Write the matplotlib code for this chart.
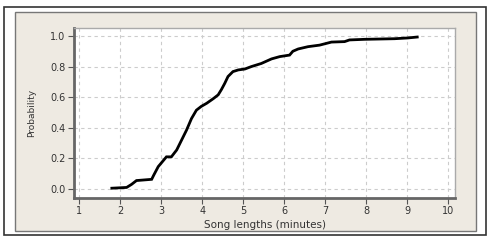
import matplotlib.pyplot as plt
from matplotlib.patches import Rectangle

# song length (minutes) vs cumulative probability
lengths = [1.80, 2.16, 2.28, 2.40, 2.77, 2.82, 2.93, 3.03, 3.13, 3.25, 3.38,
           3.50, 3.62, 3.74, 3.86, 3.98, 4.11, 4.27, 4.39, 4.47, 4.55, 4.63,
           4.75, 4.88, 5.04, 5.20, 5.44, 5.69, 5.89, 6.13, 6.21, 6.34, 6.58,
           6.86, 7.15, 7.47, 7.59, 7.96, 8.69, 9.01, 9.24]
prob = [0.005, 0.01, 0.03, 0.055, 0.063, 0.09, 0.146, 0.178, 0.21, 0.21, 0.255,
        0.32, 0.385, 0.46, 0.515, 0.54, 0.56, 0.59, 0.615, 0.65, 0.69, 0.735,
        0.767, 0.778, 0.784, 0.80, 0.82, 0.85, 0.865, 0.875, 0.90, 0.915, 0.93,
        0.94, 0.96, 0.963, 0.974, 0.978, 0.982, 0.987, 0.993]
xticks = list(range(1, 11))
yticks = [0.0, 0.2, 0.4, 0.6, 0.8, 1.0]

W, H = 490, 241


def px(x0, y0, x1, y1):
    # pixel box -> figure fraction (left, bottom, width, height)
    return x0 / W, 1 - y1 / H, (x1 - x0) / W, (y1 - y0) / H


fig = plt.figure(figsize=(4.9, 2.41), dpi=100)
fig.patch.set_facecolor('white')

# outer frame and beige panel, kept behind the axes
l, b, w, h = px(4, 7, 486, 235)
fig.add_artist(Rectangle((l, b), w, h, transform=fig.transFigure, zorder=-2,
                         facecolor='white', edgecolor='#333333', lw=1.2))
l, b, w, h = px(15, 12, 476, 231)
fig.add_artist(Rectangle((l, b), w, h, transform=fig.transFigure, zorder=-1,
                         facecolor='#eeeae2', edgecolor='#777777', lw=1.0))

ax = fig.add_axes(px(74, 28, 455, 198))
ax.set_facecolor('white')
ax.plot(lengths, prob, color='black', lw=2, solid_joinstyle='miter')

ax.set_xlim(0.878, 10.16)
ax.set_ylim(-0.059, 1.052)
ax.set_xticks(xticks)
ax.set_xticklabels([str(t) for t in xticks])
ax.set_yticks(yticks)
ax.set_yticklabels(['{:.1f}'.format(t) for t in yticks])

ax.grid(True, color='#cccccc', lw=0.8, linestyle=(0, (3, 3)))
ax.set_axisbelow(True)

for s in ['top', 'right']:
    ax.spines[s].set_color('#aaaaaa')
    ax.spines[s].set_linewidth(1)
for s in ['left', 'bottom']:
    ax.spines[s].set_color('#666666')
    ax.spines[s].set_linewidth(2)

ax.tick_params(direction='out', length=4, width=0.8, color='#555555',
               labelsize=7, labelcolor='#333333', pad=2)
ax.set_xlabel('Song lengths (minutes)', fontsize=7.5, color='#333333', labelpad=3)
ax.set_ylabel('Probability', fontsize=6.5, color='#333333', labelpad=10)

fig.savefig('out.png', dpi=100)
